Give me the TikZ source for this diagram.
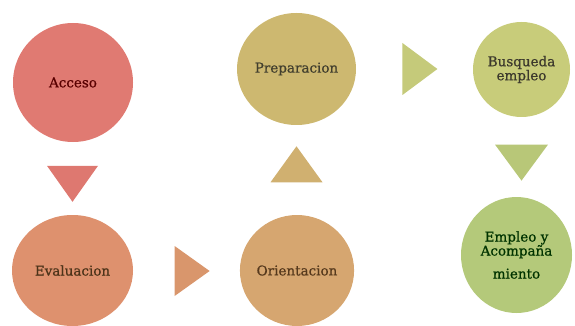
\documentclass[tikz,border=0pt]{standalone}
\usepackage{fontspec}
\setmainfont{DejaVu Serif}[BoldFont={DejaVu Serif}, BoldFeatures={FakeBold=0.7}]
\usetikzlibrary{shapes.geometric}
\definecolor{accesocol}{RGB}{224,122,114}
\definecolor{evalcol}{RGB}{222,145,110}
\definecolor{orientcol}{RGB}{214,166,112}
\definecolor{prepcol}{RGB}{205,184,112}
\definecolor{buscol}{RGB}{200,204,122}
\definecolor{empleocol}{RGB}{180,201,122}
\definecolor{redtri}{RGB}{222,120,112}
\definecolor{orangetri}{RGB}{217,150,108}
\definecolor{tantri}{RGB}{208,176,112}
\definecolor{yellowtri}{RGB}{197,202,122}
\definecolor{greentri}{RGB}{184,199,120}
\begin{document}
\begin{tikzpicture}
  [x=1pt, y=-1pt,
   stage/.style={shape=ellipse, draw=none, inner sep=0pt, align=center,
         font=\fontsize{13.5}{16}\selectfont\bfseries},
   pointer/.style={shape=isosceles triangle, isosceles triangle stretches,
         draw=none, inner sep=0pt, minimum height=35pt, minimum width=51pt}
  ]
 \useasboundingbox (0, 0) rectangle (575, 326);

 \path
   (73, 82.5) node (acceso) [stage, fill=accesocol, text=red!35!black,
        minimum width=120pt, minimum height=119pt] {Acceso}
   {[current point is local] % down to evaluacion
      ++(-0.5, 96.5)  node (downred)   [pointer, fill=redtri, rotate=-90, minimum height=36pt] {}
      ++(0, 91.5)     node (evaluacion) [stage, fill=evalcol, text=brown!40!black,
           minimum width=121pt, minimum height=111pt] {Evaluacion}
      ++(115, 0.5)    node (rightorange) [pointer, fill=orangetri, minimum width=50pt] {}
      ++(109.5, -0.5) node (orientacion) [stage, fill=orientcol, text=brown!45!black,
           minimum width=112pt, minimum height=111pt] {Orientacion}
   }
   (296.5, 69) node (preparacion) [stage, fill=prepcol, text=olive!30!black,
        minimum width=119pt, minimum height=112pt] {Preparacion}
   {[current point is local] % up from orientacion
      ++(0, 100)      node (upturn)    [pointer, fill=tantri, rotate=90, minimum height=36pt,
           minimum width=52pt] {}
   }
   {[current point is local] % across to busqueda, then down to empleo
      ++(119, 0)      node (rightyellow) [pointer, fill=yellowtri, minimum width=52pt] {}
      ++(106, 0.5)    node (busqueda)  [stage, fill=buscol, text=olive!25!black,
           minimum width=97pt, minimum height=95pt] {Busqueda\\[-2pt]empleo}
      ++(0, 88.5)     node (downgreen) [pointer, fill=greentri, rotate=-90, minimum height=36pt,
           minimum width=53pt] {}
      ++(-5, 97)      node (empleo)    [stage, fill=empleocol, text=green!20!black,
           minimum width=111pt, minimum height=116pt] {Empleo y\\[-2pt]Acompaña\\[7pt]miento}
   }
   ;

\end{tikzpicture}
\end{document}
